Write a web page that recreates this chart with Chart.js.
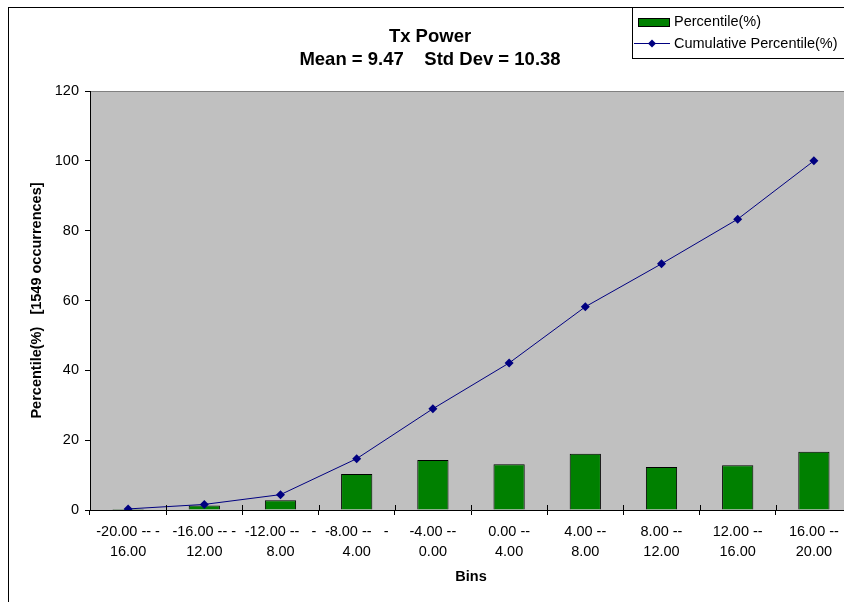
<!DOCTYPE html>
<html>
<head>
<meta charset="utf-8">
<script src="https://cdn.jsdelivr.net/npm/chart.js@4/dist/chart.umd.min.js"></script>
<style>
  html, body { margin: 0; padding: 0; background: #fff; overflow: hidden; }
  canvas { display: block; }
</style>
</head>
<body>
<canvas id="c" width="870" height="620"></canvas>
<script>
// Tx power histogram: 10 bins of 4 dB, per-bin share and running total
const binLabels = [
  ["-20.00 -- -", "16.00"],
  ["-16.00 -- -", "12.00"],
  ["-12.00 --   -", "8.00"],
  ["-8.00 --   -", "4.00"],
  ["-4.00 --", "0.00"],
  ["0.00 --", "4.00"],
  ["4.00 --", "8.00"],
  ["8.00 --", "12.00"],
  ["12.00 --", "16.00"],
  ["16.00 --", "20.00"]
];
const percentile = [0.3, 1.3, 2.8, 10.3, 14.3, 13.1, 16.1, 12.3, 12.8, 16.7];
const cumulativePercentile = [0.3, 1.6, 4.4, 14.7, 29.0, 42.1, 58.2, 70.5, 83.3, 100.0];
const yTicks = [0, 20, 40, 60, 80, 100, 120];

const titleLines = ["Tx Power", "Mean = 9.47    Std Dev = 10.38"];
const seriesNames = ["Percentile(%)", "Cumulative Percentile(%)"];

const FONT = "'Liberation Sans', Arial, sans-serif";
const BAR_GREEN = "#008000";
const LINE_NAVY = "#000080";

Chart.defaults.color = "#000";
Chart.defaults.font.family = FONT;

// Frame, plot background, title, legend and cross tick marks
const decor = {
  id: "decor",
  beforeDraw(chart) {
    const { ctx, chartArea: a } = chart;
    ctx.save();
    ctx.fillStyle = "#fff";
    ctx.fillRect(0, 0, chart.width, chart.height);
    ctx.strokeStyle = "#000";
    ctx.lineWidth = 1;
    ctx.strokeRect(8.5, 7.5, chart.width + 50, chart.height + 50);
    ctx.fillStyle = "#c0c0c0";
    ctx.fillRect(a.left, a.top, a.right - a.left, a.bottom - a.top);
    ctx.strokeStyle = "#808080";
    ctx.beginPath();
    ctx.moveTo(a.left, a.top + 0.5);
    ctx.lineTo(a.right, a.top + 0.5);
    ctx.stroke();
    ctx.restore();
  },
  afterDraw(chart) {
    const { ctx, chartArea: a } = chart;
    const x = chart.scales.x;
    ctx.save();
    // inner halves of the category tick marks
    ctx.strokeStyle = "#000";
    ctx.lineWidth = 1;
    const n = binLabels.length;
    const step = (a.right - a.left) / n;
    ctx.beginPath();
    for (let i = 1; i < n; i++) {
      const px = Math.round(a.left + i * step) + 0.5;
      ctx.moveTo(px, a.bottom - 5);
      ctx.lineTo(px, a.bottom);
    }
    ctx.stroke();

    // title
    ctx.fillStyle = "#000";
    ctx.textAlign = "center";
    ctx.textBaseline = "middle";
    ctx.font = "bold 18.5px " + FONT;
    ctx.fillText(titleLines[0], 430, 37);
    ctx.fillText(titleLines[1], 430, 60);

    // legend box
    ctx.fillStyle = "#fff";
    ctx.fillRect(632.5, 7.5, chart.width, 51);
    ctx.strokeStyle = "#000";
    ctx.strokeRect(632.5, 7.5, chart.width, 51);
    // bar swatch
    ctx.fillStyle = BAR_GREEN;
    ctx.fillRect(638.5, 18.5, 31, 8);
    ctx.strokeRect(638.5, 18.5, 31, 8);
    // line swatch
    ctx.strokeStyle = LINE_NAVY;
    ctx.beginPath();
    ctx.moveTo(634, 43.5);
    ctx.lineTo(670, 43.5);
    ctx.stroke();
    ctx.fillStyle = LINE_NAVY;
    ctx.beginPath();
    ctx.moveTo(652, 39.5);
    ctx.lineTo(656, 43.5);
    ctx.lineTo(652, 47.5);
    ctx.lineTo(648, 43.5);
    ctx.closePath();
    ctx.fill();
    // legend text
    ctx.fillStyle = "#000";
    ctx.textAlign = "left";
    ctx.font = "14.5px " + FONT;
    ctx.fillText(seriesNames[0], 674, 22);
    ctx.fillText(seriesNames[1], 674, 44);
    ctx.restore();
  }
};

new Chart(document.getElementById("c"), {
  type: "bar",
  data: {
    labels: binLabels,
    datasets: [
      {
        type: "line",
        label: seriesNames[1],
        data: cumulativePercentile,
        borderColor: LINE_NAVY,
        backgroundColor: LINE_NAVY,
        borderWidth: 1,
        pointStyle: "rectRot",
        pointRadius: 4.5,
        pointBorderWidth: 0,
        pointBackgroundColor: LINE_NAVY,
        tension: 0,
        order: 1
      },
      {
        type: "bar",
        label: seriesNames[0],
        data: percentile,
        backgroundColor: BAR_GREEN,
        borderColor: "#000",
        borderWidth: 1,
        barPercentage: 0.41,
        categoryPercentage: 1,
        order: 2
      }
    ]
  },
  options: {
    responsive: false,
    animation: false,
    devicePixelRatio: 1,
    layout: { padding: { left: 0, top: 91, right: 18, bottom: 0 } },
    plugins: {
      legend: { display: false },
      title: { display: false },
      tooltip: { enabled: false }
    },
    scales: {
      x: {
        offset: true,
        grid: {
          offset: true,
          drawOnChartArea: false,
          drawTicks: true,
          tickLength: 5,
          color: "#000"
        },
        border: { color: "#000", width: 1 },
        ticks: {
          font: { size: 14.5, lineHeight: 1.38 },
          padding: 7,
          maxRotation: 0,
          autoSkip: false
        },
        title: {
          display: true,
          text: "Bins",
          font: { size: 14.5, weight: "bold" },
          padding: { top: 0, bottom: 34 }
        },
        afterFit(scale) { scale.height = 110; }
      },
      y: {
        min: 0,
        max: 120,
        afterBuildTicks(scale) { scale.ticks = yTicks.map(v => ({ value: v })); },
        grid: {
          drawOnChartArea: false,
          drawTicks: true,
          tickLength: 5,
          color: "#000"
        },
        border: { color: "#000", width: 1 },
        ticks: {
          font: { size: 14.5 },
          padding: 6
        },
        title: {
          display: true,
          text: "Percentile(%)   [1549 occurrences]",
          font: { size: 14.5, weight: "bold" },
          padding: { top: 28, bottom: 0 }
        },
        afterFit(scale) { scale.width = 90; }
      }
    }
  },
  plugins: [decor]
});
</script>
</body>
</html>
